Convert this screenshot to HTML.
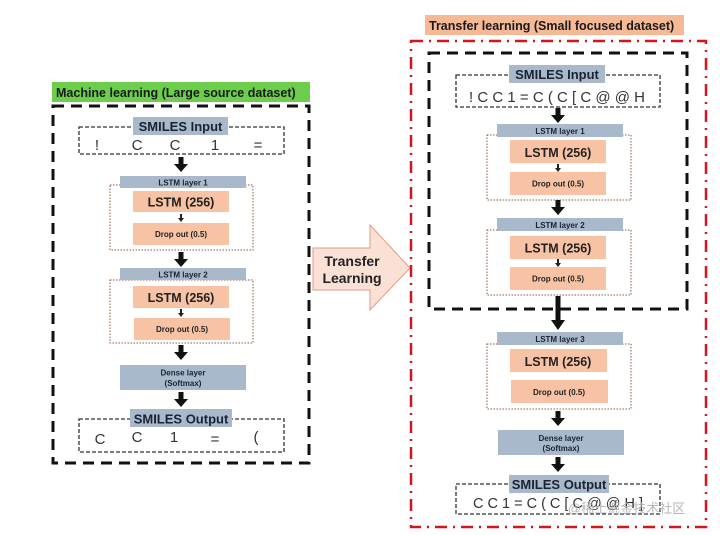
<!DOCTYPE html>
<html><head><meta charset="utf-8"><style>
html,body{margin:0;padding:0;background:#fff;}
svg{display:block;font-family:"Liberation Sans",Arial,sans-serif;}
</style></head><body>
<svg width="720" height="535" viewBox="0 0 720 535" xmlns="http://www.w3.org/2000/svg">
<defs>
<g id="arr"><polygon points="-2.5,0 2.5,0 2.5,7 7,7 0,15 -7,7 -2.5,7" fill="#111"/></g>
<g id="sarr"><polygon points="-1,0 1,0 1,4 3,4 0,8 -3,4 -1,4" fill="#222"/></g>
</defs>
<rect width="720" height="535" fill="#fff"/>

<!-- LEFT -->
<rect x="52" y="82" width="258" height="20" fill="#6dcd4c"/>
<text x="56" y="97" font-size="12.5" font-weight="bold" fill="#1a1a1a">Machine learning (Large source dataset)</text>
<rect x="53" y="106" width="256" height="357" fill="none" stroke="#111" stroke-width="3" stroke-dasharray="11,7"/>

<rect x="79" y="127" width="205" height="27" fill="none" stroke="#333" stroke-width="1.3" stroke-dasharray="4,2"/>
<rect x="133" y="117" width="95" height="18" fill="#a9b9cc"/>
<text x="180.5" y="131" font-size="13" font-weight="bold" text-anchor="middle" fill="#1a2233">SMILES Input</text>
<g font-size="15" fill="#333" text-anchor="middle">
<text x="97" y="150">!</text><text x="137" y="150">C</text><text x="175" y="150">C</text><text x="215" y="150">1</text><text x="258" y="150">=</text></g>
<use href="#arr" x="181" y="157"/>

<rect x="110" y="185" width="143" height="65" fill="none" stroke="#8b5a3c" stroke-width="1" stroke-dasharray="1.5,1.5"/>
<rect x="120" y="176" width="126" height="12" fill="#a9b9cc"/>
<text x="183" y="185.5" font-size="8" font-weight="bold" text-anchor="middle" fill="#1a2233">LSTM layer 1</text>
<rect x="133" y="191" width="96" height="21" fill="#f8c3a4"/>
<text x="181" y="206.5" font-size="12.5" font-weight="bold" text-anchor="middle" fill="#222">LSTM (256)</text>
<use href="#sarr" x="181" y="214"/>
<rect x="133" y="223" width="96" height="22" fill="#f8c3a4"/>
<text x="181" y="237" font-size="8" font-weight="bold" text-anchor="middle" fill="#222">Drop out (0.5)</text>
<use href="#arr" x="181" y="252"/>

<rect x="110" y="280" width="143" height="63" fill="none" stroke="#8b5a3c" stroke-width="1" stroke-dasharray="1.5,1.5"/>
<rect x="120" y="268" width="126" height="12" fill="#a9b9cc"/>
<text x="183" y="277.5" font-size="8" font-weight="bold" text-anchor="middle" fill="#1a2233">LSTM layer 2</text>
<rect x="133" y="286" width="96" height="22" fill="#f8c3a4"/>
<text x="181" y="302" font-size="12.5" font-weight="bold" text-anchor="middle" fill="#222">LSTM (256)</text>
<use href="#sarr" x="181" y="309"/>
<rect x="134" y="318" width="96" height="22" fill="#f8c3a4"/>
<text x="182" y="332" font-size="8" font-weight="bold" text-anchor="middle" fill="#222">Drop out (0.5)</text>
<use href="#arr" x="181" y="345"/>

<rect x="120" y="365" width="126" height="25" fill="#a9b9cc"/>
<text x="183" y="375.5" font-size="8" font-weight="bold" text-anchor="middle" fill="#1a2233">Dense layer</text>
<text x="183" y="386" font-size="8" font-weight="bold" text-anchor="middle" fill="#1a2233">(Softmax)</text>
<use href="#arr" x="181" y="392"/>

<rect x="79" y="419" width="205" height="33" fill="none" stroke="#333" stroke-width="1.3" stroke-dasharray="4,2"/>
<rect x="130" y="409" width="102" height="18" fill="#a9b9cc"/>
<text x="181" y="423.5" font-size="13" font-weight="bold" text-anchor="middle" fill="#1a2233">SMILES Output</text>
<g font-size="15" fill="#333" text-anchor="middle">
<text x="100" y="444">C</text><text x="137" y="442">C</text><text x="174" y="442">1</text><text x="215" y="444">=</text><text x="256" y="442">(</text></g>

<!-- Transfer arrow -->
<polygon points="313,248 370,248 370,225 410,268 370,310 370,290 313,290" fill="#fbe1d5" stroke="#e39a84" stroke-width="1"/>
<text x="352" y="266" font-size="14" font-weight="bold" text-anchor="middle" fill="#222">Transfer</text>
<text x="352" y="283" font-size="14" font-weight="bold" text-anchor="middle" fill="#222">Learning</text>

<!-- RIGHT -->
<rect x="425" y="15" width="259" height="20" fill="#f6b996"/>
<text x="429" y="30" font-size="12.5" font-weight="bold" fill="#1a1a1a">Transfer learning (Small focused dataset)</text>
<rect x="411" y="41" width="295" height="486" fill="none" stroke="#d4141e" stroke-width="2.5" stroke-dasharray="12,6,2,6"/>
<rect x="429" y="53" width="258" height="256" fill="none" stroke="#111" stroke-width="3" stroke-dasharray="11,7"/>

<rect x="456" y="75" width="204" height="32" fill="none" stroke="#333" stroke-width="1.3" stroke-dasharray="4,2"/>
<rect x="509" y="65" width="96" height="18" fill="#a9b9cc"/>
<text x="557" y="79" font-size="13" font-weight="bold" text-anchor="middle" fill="#1a2233">SMILES Input</text>
<text x="557" y="102" font-size="15" text-anchor="middle" fill="#333">! C C 1 = C ( C [ C @ @ H</text>
<use href="#arr" x="558" y="108"/>

<rect x="487" y="135" width="144" height="65" fill="none" stroke="#8b5a3c" stroke-width="1" stroke-dasharray="1.5,1.5"/>
<rect x="497" y="124" width="126" height="13" fill="#a9b9cc"/>
<text x="560" y="134" font-size="8" font-weight="bold" text-anchor="middle" fill="#1a2233">LSTM layer 1</text>
<rect x="510" y="140" width="96" height="23" fill="#f8c3a4"/>
<text x="558" y="157" font-size="12.5" font-weight="bold" text-anchor="middle" fill="#222">LSTM (256)</text>
<use href="#sarr" x="558" y="164"/>
<rect x="510" y="172" width="96" height="23" fill="#f8c3a4"/>
<text x="558" y="186.5" font-size="8" font-weight="bold" text-anchor="middle" fill="#222">Drop out (0.5)</text>
<use href="#arr" x="558" y="200"/>

<rect x="487" y="230" width="144" height="65" fill="none" stroke="#8b5a3c" stroke-width="1" stroke-dasharray="1.5,1.5"/>
<rect x="497" y="218" width="126" height="13" fill="#a9b9cc"/>
<text x="560" y="228" font-size="8" font-weight="bold" text-anchor="middle" fill="#1a2233">LSTM layer 2</text>
<rect x="510" y="236" width="96" height="23" fill="#f8c3a4"/>
<text x="558" y="252.5" font-size="12.5" font-weight="bold" text-anchor="middle" fill="#222">LSTM (256)</text>
<use href="#sarr" x="558" y="259"/>
<rect x="510" y="267" width="96" height="23" fill="#f8c3a4"/>
<text x="558" y="281.5" font-size="8" font-weight="bold" text-anchor="middle" fill="#222">Drop out (0.5)</text>
<polygon points="555.5,296 560.5,296 560.5,320 565,320 558,330 551,320 555.5,320" fill="#111"/>

<rect x="487" y="344" width="144" height="65" fill="none" stroke="#8b5a3c" stroke-width="1" stroke-dasharray="1.5,1.5"/>
<rect x="497" y="332" width="126" height="13" fill="#a9b9cc"/>
<text x="560" y="342" font-size="8" font-weight="bold" text-anchor="middle" fill="#1a2233">LSTM layer 3</text>
<rect x="510" y="349" width="97" height="23" fill="#f8c3a4"/>
<text x="558" y="366" font-size="12.5" font-weight="bold" text-anchor="middle" fill="#222">LSTM (256)</text>
<rect x="511" y="380" width="97" height="23" fill="#f8c3a4"/>
<text x="559" y="395" font-size="8" font-weight="bold" text-anchor="middle" fill="#222">Drop out (0.5)</text>
<use href="#arr" x="558" y="411"/>

<rect x="498" y="430" width="126" height="25" fill="#a9b9cc"/>
<text x="561" y="441" font-size="8" font-weight="bold" text-anchor="middle" fill="#1a2233">Dense layer</text>
<text x="561" y="451" font-size="8" font-weight="bold" text-anchor="middle" fill="#1a2233">(Softmax)</text>
<use href="#arr" x="558" y="457"/>

<rect x="456" y="484" width="204" height="30" fill="none" stroke="#333" stroke-width="1.3" stroke-dasharray="4,2"/>
<rect x="509" y="475" width="100" height="18" fill="#a9b9cc"/>
<text x="559" y="489" font-size="13" font-weight="bold" text-anchor="middle" fill="#1a2233">SMILES Output</text>
<text x="558" y="508" font-size="14.5" text-anchor="middle" fill="#333">C C 1 = C ( C [ C @ @ H ]</text>
<text x="568" y="513" font-size="13" fill="#aaa" fill-opacity="0.85" font-family="'Liberation Sans','Noto Sans CJK SC',sans-serif">@稀土掘金技术社区</text>
</svg>
</body></html>
